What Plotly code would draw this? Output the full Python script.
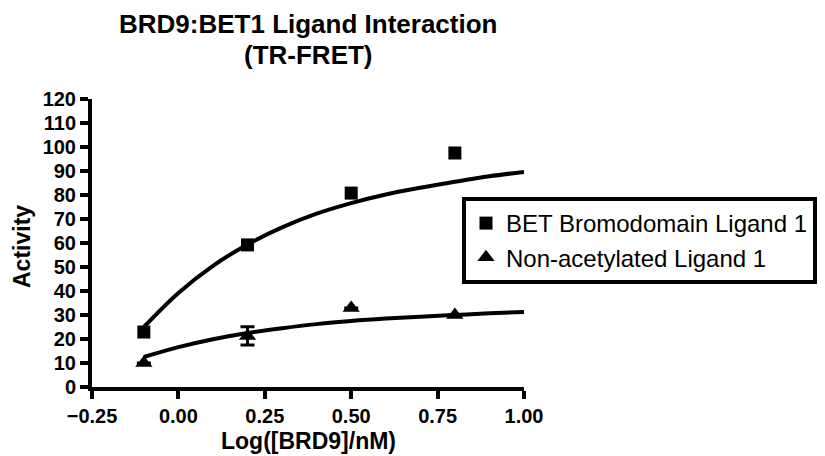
import plotly.graph_objects as go

# Data points
x_vals = [-0.1, 0.2, 0.5, 0.8]
bet_vals = [22.9, 59.2, 80.8, 97.5]
non_vals = [10.0, 21.3, 32.9, 30.0]
non_err = [0.0, 3.8, 0.0, 0.0]

# Fitted curves
curve_x = [-0.1, 0.0, 0.1, 0.2, 0.3, 0.4, 0.5, 0.6, 0.7, 0.8, 0.9, 1.0]
bet_curve = [25.0, 39.2, 50.5, 59.4, 66.5, 72.2, 76.6, 80.2, 83.0, 85.5, 87.8, 89.6]
non_curve = [12.5, 16.6, 19.9, 22.5, 24.5, 26.2, 27.5, 28.5, 29.3, 30.0, 30.7, 31.3]

x_ticks = [-0.25, 0.0, 0.25, 0.5, 0.75, 1.0]
y_ticks = list(range(0, 121, 10))

title_lines = ["BRD9:BET1 Ligand Interaction", "(TR-FRET)"]
x_title = "Log([BRD9]/nM)"
y_title = "Activity"

FONT = "Arial, Liberation Sans, sans-serif"

# page body has an 8px margin; lay out in window pixels and offset
OFF = 8
FIG_W, FIG_H = 825 - OFF, 456 - OFF
# plot area in window pixels
L, R, T, B = 92, 524, 99, 387
W, H = R - L, B - T


def py(pix):
    return (B - pix) / H


def px(pix):
    return (pix - L) / W


fig = go.Figure()

fig.add_trace(go.Scatter(x=curve_x, y=bet_curve, mode="lines", line=dict(color="black", width=4, shape="spline"),
                         showlegend=False, hoverinfo="skip"))
fig.add_trace(go.Scatter(x=curve_x, y=non_curve, mode="lines", line=dict(color="black", width=4, shape="spline"),
                         showlegend=False, hoverinfo="skip"))

fig.add_trace(go.Scatter(x=x_vals, y=bet_vals, mode="markers", name="BET Bromodomain Ligand 1",
                         marker=dict(symbol="square", size=13, color="black")))
fig.add_trace(go.Scatter(x=x_vals, y=non_vals, mode="markers", name="Non-acetylated Ligand 1",
                         marker=dict(symbol="triangle-up", size=15, color="black"),
                         error_y=dict(type="data", array=non_err, visible=True, color="black", thickness=3, width=7)))

axis_common = dict(showgrid=False, zeroline=False, showline=True, linecolor="black", linewidth=4,
                   ticks="outside", ticklen=8, tickwidth=4, tickcolor="black", automargin=False,
                   tickfont=dict(family=FONT, size=20, color="black", weight="bold"))

title_font = dict(family=FONT, size=26, color="black", weight="bold")
axis_title_font = dict(family=FONT, size=23, color="black", weight="bold")
annotations = [
    dict(text=title_lines[0], x=0.5, xref="paper", y=py(24), yref="paper",
         xanchor="center", yanchor="middle", showarrow=False, font=title_font),
    dict(text=title_lines[1], x=0.5, xref="paper", y=py(55), yref="paper",
         xanchor="center", yanchor="middle", showarrow=False, font=title_font),
    dict(text=x_title, x=0.5, xref="paper", y=py(456), yref="paper",
         xanchor="center", yanchor="bottom", showarrow=False, font=axis_title_font),
    dict(text=y_title, x=px(22), xref="paper", y=py(247), yref="paper", textangle=-90,
         xanchor="center", yanchor="middle", showarrow=False, font=axis_title_font),
]

fig.update_layout(
    width=FIG_W, height=FIG_H,
    margin=dict(l=L - OFF, r=825 - R, t=T - OFF, b=456 - B, autoexpand=False),
    paper_bgcolor="white", plot_bgcolor="white",
    annotations=annotations,
    xaxis=dict(range=[-0.25, 1.0], tickvals=x_ticks, tickformat=".2f", **axis_common),
    yaxis=dict(range=[0, 120], tickvals=y_ticks, **axis_common),
    legend=dict(x=px(462), xanchor="left", y=py(197), yanchor="top",
                bordercolor="black", borderwidth=4, bgcolor="white",
                font=dict(family=FONT, size=24, color="black")),
)

fig.write_html("out.html")
